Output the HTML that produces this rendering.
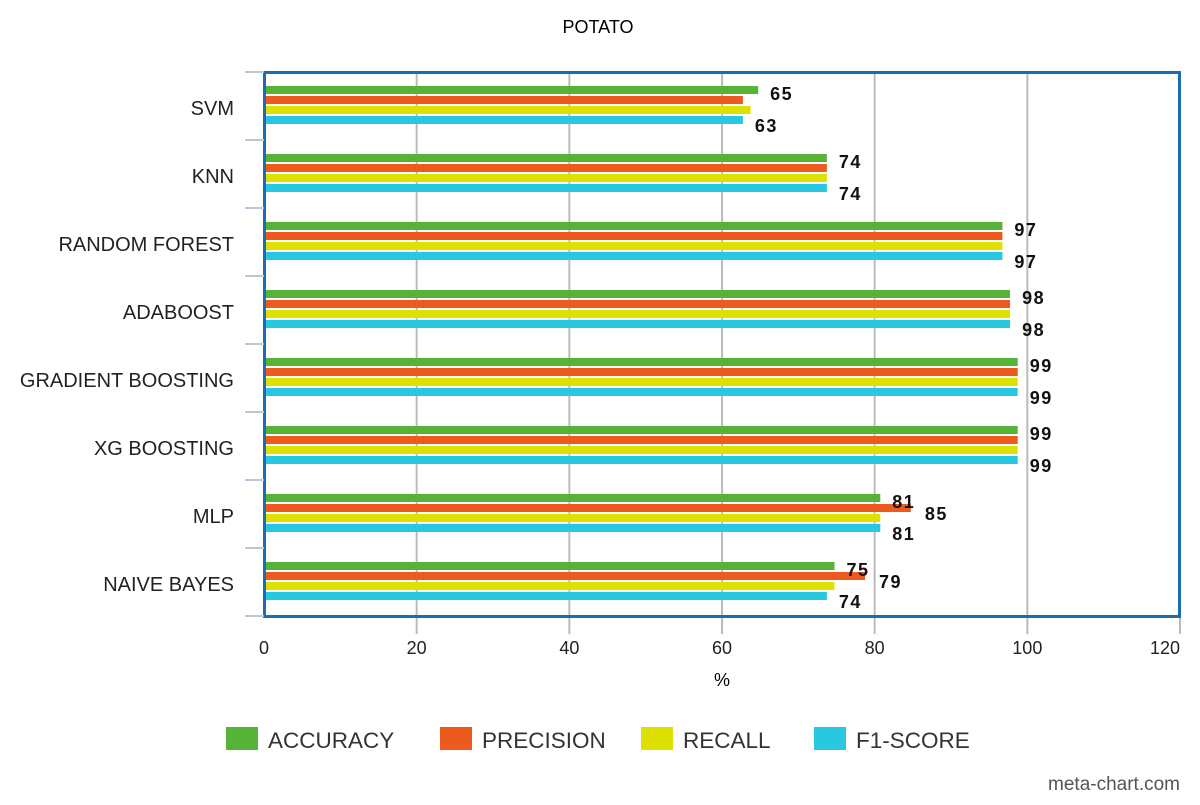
<!DOCTYPE html>
<html><head><meta charset="utf-8"><style>
body{margin:0;background:#fff;font-family:"Liberation Sans",sans-serif}
</style></head><body>
<svg id="c" width="1200" height="800" xmlns="http://www.w3.org/2000/svg">
<text x="598" y="33" text-anchor="middle" font-size="18">POTATO</text>
<g id="grid"></g><g id="bars"></g><g id="labels"></g>
<rect x="264.5" y="72.5" width="915" height="544" fill="none" stroke="#1d6cae" stroke-width="3"/>
<g id="ax"></g>
<text x="722" y="686" text-anchor="middle" font-size="18">%</text>
<g id="legend"></g>
<text x="1180" y="790" text-anchor="end" font-size="19" fill="#555">meta-chart.com</text>
</svg>
<script>
const categories=["SVM","KNN","RANDOM FOREST","ADABOOST","GRADIENT BOOSTING","XG BOOSTING","MLP","NAIVE BAYES"];
const accuracy=[65,74,97,98,99,99,81,75];
const precision=[63,74,97,98,99,99,85,79];
const recall=[64,74,97,98,99,99,81,75];
const f1=[63,74,97,98,99,99,81,74];
const xTicks=[0,20,40,60,80,100,120];
const seriesNames=["ACCURACY","PRECISION","RECALL","F1-SCORE"];
const colors=["#55b437","#ec5a1e","#dde000","#27c8e0"];
const NS="http://www.w3.org/2000/svg";
const X=v=>264+v*(1180-264)/120;
const rowTop=i=>72+i*68;
function mk(t,a,p){const e=document.createElementNS(NS,t);for(const k in a)e.setAttribute(k,a[k]);document.getElementById(p).appendChild(e);return e;}
xTicks.forEach(t=>{
 if(t>0){const g=mk('line',{x1:X(t),x2:X(t),y1:72,y2:634,stroke:'#bbb','stroke-width':2},'grid');
 
 }
 const l=mk('text',{x:t==120?X(t)-15:X(t),y:654,'text-anchor':'middle','font-size':18,fill:'#222'},'ax');l.textContent=t;
 
 
});
for(let i=0;i<=categories.length;i++){
 const m=mk('line',{x1:245,x2:264,y1:rowTop(i),y2:rowTop(i),stroke:'#b8c8d8','stroke-width':2},'ax');
 
 
}
const series=[accuracy,precision,recall,f1];
categories.forEach((c,i)=>{
 const t=mk('text',{x:234,y:rowTop(i)+43,'text-anchor':'end','font-size':20,fill:'#222'},'ax');t.textContent=c;
 
 
 series.forEach((s,j)=>{
  const r=mk('rect',{x:266,y:rowTop(i)+14+j*10,width:X(s[i])-268,height:8,fill:colors[j]},'bars');
  
  
 });
 const labs=[[accuracy[i],X(accuracy[i])+10,rowTop(i)+28]];
 if(Math.abs(precision[i]-accuracy[i])>=3) labs.push([precision[i],X(precision[i])+12,rowTop(i)+40]);
 labs.push([f1[i],X(f1[i])+10,rowTop(i)+60]);
 labs.forEach(L=>{
  const v=mk('text',{x:L[1],y:L[2],'font-size':18,'font-weight':'bold',fill:'#111','letter-spacing':'1.5'},'labels');v.textContent=L[0];
  
  
 });
});
const lx=[226,440,641,814];
seriesNames.forEach((n,j)=>{
 const r=mk('rect',{x:lx[j],y:727,width:32,height:23,fill:colors[j]},'legend');
 
 
 const t=mk('text',{x:lx[j]+42,y:748,'font-size':22.5,fill:'#333'},'legend');t.textContent=n;
 
 
});
</script>
</body></html>
